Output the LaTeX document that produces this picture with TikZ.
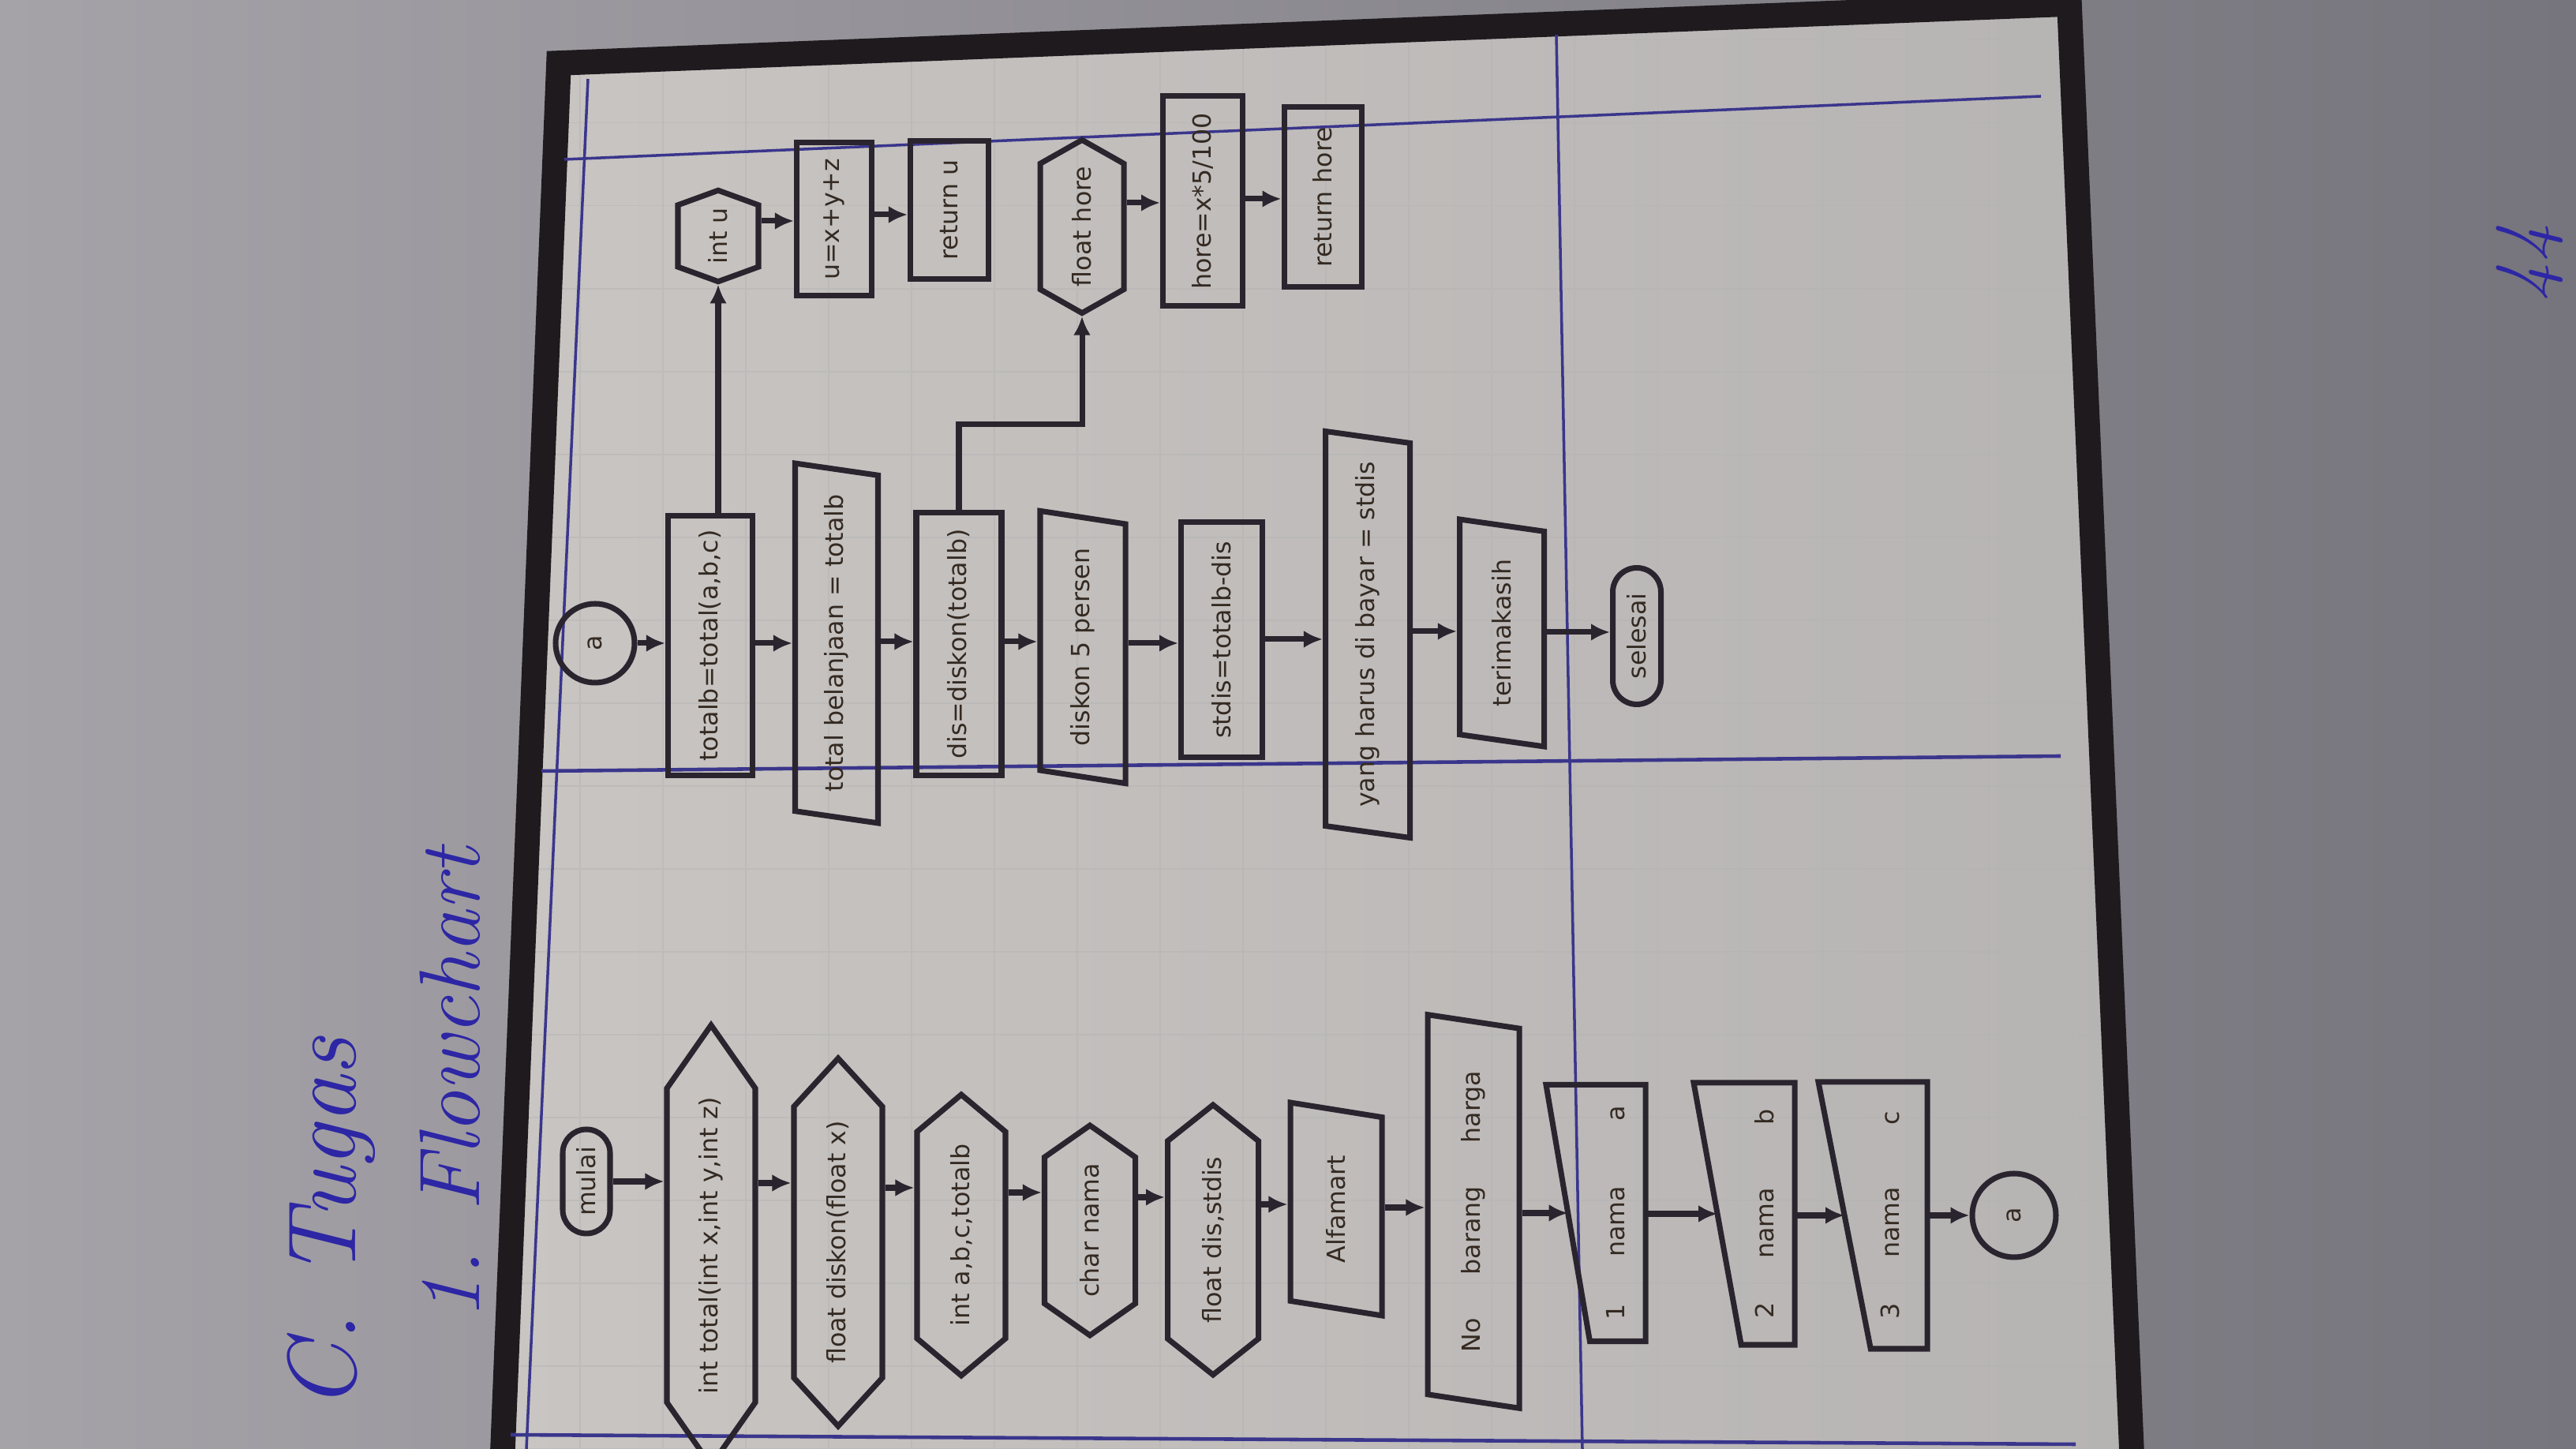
\documentclass[tikz,border=0pt]{standalone}
\usepackage{fontspec}
\newfontfamily\boxfont{DejaVu Sans}
\usetikzlibrary{shapes.geometric,shapes.misc,shapes.symbols,arrows.meta,calc}
\definecolor{ink}{RGB}{42,36,46}
\definecolor{txt}{RGB}{52,42,34}
\definecolor{pen}{RGB}{45,38,165}
\definecolor{lane}{RGB}{58,54,140}
\definecolor{paperL}{RGB}{200,197,194}
\definecolor{paperR}{RGB}{182,179,179}
\definecolor{deskL}{RGB}{165,163,168}
\definecolor{deskR}{RGB}{118,116,124}
\definecolor{rim}{RGB}{30,26,30}

\begin{document}
\begin{tikzpicture}
\tikzstyle{nodebox}=[draw=ink, line width=2pt, rotate=90, inner sep=1pt, text=txt, font=\boxfont\fontsize{9}{10}\selectfont]
\tikzstyle{term}=[nodebox, rounded rectangle]
\tikzstyle{prep}=[nodebox, signal, signal to=east and west]
\tikzstyle{proc}=[nodebox, rectangle]
\tikzstyle{io}=[nodebox, trapezium, trapezium left angle=70, trapezium right angle=110, trapezium stretches=true]
\tikzstyle{minput}=[nodebox, rectangle, draw=none]
\tikzstyle{conn}=[nodebox, circle]
\tikzstyle{arr}=[draw=ink, line width=2pt, -{Latex[length=2.4mm,width=2.2mm]}]
\tikzstyle{lanes}=[draw=lane, line width=1pt]
\tikzstyle{hand}=[text=pen, rotate=90, inner sep=0pt]

    \useasboundingbox (0,0) rectangle (32.64,18.36);
    \shade[left color=deskL, right color=deskR] (0,0) rectangle (32.64,18.36);
    \shade[left color=paperL, right color=paperR] (6.37,0) -- (7.08,17.56) -- (26.22,18.31) -- (27.01,0) -- cycle;
    \begin{scope}
    \clip (6.37,0) -- (7.08,17.56) -- (26.22,18.31) -- (27.01,0) -- cycle;
    \draw[black!30, line width=0.3pt, opacity=0.4] (6,0) grid[step=1.05] (28,19);
    \end{scope}
    \draw[rim, line width=9pt] (6.35,-0.5) -- (7.08,17.56) -- (26.22,18.31) -- (27.03,-0.5);

    \draw[lanes] (7.45,17.36) -- (6.67,0);
    \draw[lanes] (19.72,17.92) -- (20.05,0);
    \draw[lanes] (7.15,16.34) -- (25.86,17.14);
    \draw[lanes, line width=1.3pt] (6.86,8.59) -- (26.11,8.78);
    \draw[lanes, line width=1.3pt] (6.47,0.18) -- (26.30,0.06);

    \node[hand, font=\fontsize{35}{35}\selectfont\itshape] (tugas) at (4.20,2.85) {C. Tugas};
    \node[hand, font=\fontsize{31}{31}\selectfont\itshape] (judul) at (5.70,4.63) {1. Flowchart};
    \node[hand, font=\fontsize{28}{28}\selectfont\itshape] (halaman) at (32.05,15.03) {44};

    \node[term, minimum width=1.39cm, minimum height=0.60cm] (mulai) at (7.43,3.39) {mulai};
    \node[prep, signal pointer angle=70, minimum width=5.58cm, minimum height=1.12cm] (fTotal) at (9.01,2.58) {int total(int x,int y,int z)};
    \node[prep, signal pointer angle=85, minimum width=4.66cm, minimum height=1.12cm] (fDiskon) at (10.62,2.62) {float diskon(float x)};
    \node[prep, signal pointer angle=100, minimum width=3.56cm, minimum height=1.12cm] (varAngka) at (12.18,2.71) {int a,b,c,totalb};
    \node[prep, signal pointer angle=110, minimum width=2.66cm, minimum height=1.15cm] (varNama) at (13.81,2.77) {char nama};
    \node[prep, signal pointer angle=103, minimum width=3.42cm, minimum height=1.15cm] (varDis) at (15.37,2.65) {float dis,stdis};
    \node[io, minimum width=2.70cm, minimum height=1.16cm] (judulToko) at (16.93,3.04) {Alfamart};
    \node[io, minimum width=4.99cm, minimum height=1.16cm] (kepala) at (18.67,3.01) {No\hspace{0.55cm}barang\hspace{0.55cm}harga};
    \node[minput, minimum width=3.18cm, minimum height=1.19cm] (namaA) at (20.22,2.99) {\raisebox{-0.25cm}[\height][\depth]{1\hspace{0.6cm}nama\hspace{0.82cm}a}};
    \node[minput, minimum width=3.25cm, minimum height=1.21cm] (namaB) at (22.10,2.98) {\raisebox{-0.26cm}[\height][\depth]{2\hspace{0.56cm}nama\hspace{0.80cm}b}};
    \node[minput, minimum width=3.31cm, minimum height=1.31cm] (namaC) at (23.73,2.96) {\raisebox{-0.22cm}[\height][\depth]{3\hspace{0.58cm}nama\hspace{0.78cm}c}};
    \node[conn, minimum size=1.06cm] (sambung) at (25.52,2.96) {a};

    \draw[draw=ink, line width=2pt] (namaA.south west) -- (namaA.south east) -- (namaA.north east) -- ($(namaA.north west)!0.44!(namaA.south west)$) -- cycle;
    \draw[draw=ink, line width=2pt] (namaB.south west) -- (namaB.south east) -- (namaB.north east) -- ($(namaB.north west)!0.47!(namaB.south west)$) -- cycle;
    \draw[draw=ink, line width=2pt] (namaC.south west) -- (namaC.south east) -- (namaC.north east) -- ($(namaC.north west)!0.48!(namaC.south west)$) -- cycle;
    \coordinate (masukA) at ($(namaA.north)!0.22!(namaA.south)$);
    \coordinate (masukB) at ($(namaB.north)!0.235!(namaB.south)$);
    \coordinate (masukC) at ($(namaC.north)!0.24!(namaC.south)$);

    \draw[arr] (mulai.south) -- (mulai.south -| fTotal.north);
    \draw[arr] (fTotal.south |- 0,3.37) -- (fDiskon.north |- 0,3.37);
    \draw[arr] (fDiskon.south |- 0,3.31) -- (varAngka.north |- 0,3.31);
    \draw[arr] (varAngka.south |- 0,3.25) -- (varNama.north |- 0,3.25);
    \draw[arr] (varNama.south |- 0,3.19) -- (varDis.north |- 0,3.19);
    \draw[arr] (varDis.south |- 0,3.10) -- (judulToko.north |- 0,3.10);
    \draw[arr] (judulToko.south |- 0,3.06) -- (kepala.north |- 0,3.06);
    \draw[arr] (kepala.south |- masukA) -- (masukA);
    \draw[arr] (namaA.south |- masukB) -- (masukB);
    \draw[arr] (namaB.south |- masukC) -- (masukC);
    \draw[arr] (namaC.south |- sambung.north) -- (sambung.north);

    \node[conn, minimum size=1.0cm] (sambung2) at (7.54,10.21) {a};
    \node[proc, minimum width=3.29cm, minimum height=1.07cm] (hitungTotal) at (9.00,10.18) {totalb=total(a,b,c)};
    \node[io, minimum width=4.56cm, minimum height=1.05cm] (cetakTotal) at (10.60,10.21) {total belanjaan = totalb};
    \node[proc, minimum width=3.33cm, minimum height=1.08cm] (hitungDis) at (12.15,10.20) {dis=diskon(totalb)};
    \node[io, minimum width=3.46cm, minimum height=1.08cm] (cetakDiskon) at (13.72,10.16) {diskon 5 persen};
    \node[proc, minimum width=2.98cm, minimum height=1.03cm] (hitungStdis) at (15.48,10.25) {stdis=totalb-dis};
    \node[io, minimum width=5.16cm, minimum height=1.07cm] (cetakBayar) at (17.33,10.32) {yang harus di bayar = stdis};
    \node[io, minimum width=2.89cm, minimum height=1.07cm] (cetakTerima) at (19.03,10.34) {terimakasih};
    \node[term, minimum width=1.80cm, minimum height=0.61cm] (selesai) at (20.74,10.30) {selesai};

    \draw[arr] (sambung2.south) -- (sambung2.south -| hitungTotal.north);
    \draw[arr] (hitungTotal.south |- 0,10.21) -- (cetakTotal.north |- 0,10.21);
    \draw[arr] (cetakTotal.south |- 0,10.23) -- (hitungDis.north |- 0,10.23);
    \draw[arr] (hitungDis.south |- 0,10.23) -- (cetakDiskon.north |- 0,10.23);
    \draw[arr] (cetakDiskon.south |- 0,10.21) -- (hitungStdis.north |- 0,10.21);
    \draw[arr] (hitungStdis.south |- 0,10.26) -- (cetakBayar.north |- 0,10.26);
    \draw[arr] (cetakBayar.south |- 0,10.36) -- (cetakTerima.north |- 0,10.36);
    \draw[arr] (cetakTerima.south |- 0,10.35) -- (selesai.north |- 0,10.35);

    \node[prep, signal pointer angle=140, minimum width=1.14cm, minimum height=1.02cm] (deklU) at (9.10,15.37) {int u};
    \node[proc, minimum width=1.94cm, minimum height=0.95cm] (hitungU) at (10.57,15.58) {u=x+y+z};
    \node[proc, minimum width=1.75cm, minimum height=0.99cm] (kembaliU) at (12.03,15.70) {return u};
    \node[prep, signal pointer angle=121, minimum width=2.15cm, minimum height=1.06cm] (deklHore) at (13.71,15.49) {float hore};
    \node[proc, minimum width=2.66cm, minimum height=1.01cm] (hitungHore) at (15.24,15.81) {hore=x*5/100};
    \node[proc, minimum width=2.28cm, minimum height=0.98cm] (kembaliHore) at (16.76,15.86) {return hore};

    \draw[arr] (deklU.south |- 0,15.56) -- (hitungU.north |- 0,15.56);
    \draw[arr] (hitungU.south |- 0,15.64) -- (kembaliU.north |- 0,15.64);
    \draw[arr] (deklHore.south |- 0,15.79) -- (hitungHore.north |- 0,15.79);
    \draw[arr] (hitungHore.south |- 0,15.84) -- (kembaliHore.north |- 0,15.84);

    \draw[arr] (hitungTotal.east -| deklU.west) -- (deklU.west);
    \draw[arr] (hitungDis.east) -- ++(0,1.08) -| (deklHore.west);

\end{tikzpicture}
\end{document}
